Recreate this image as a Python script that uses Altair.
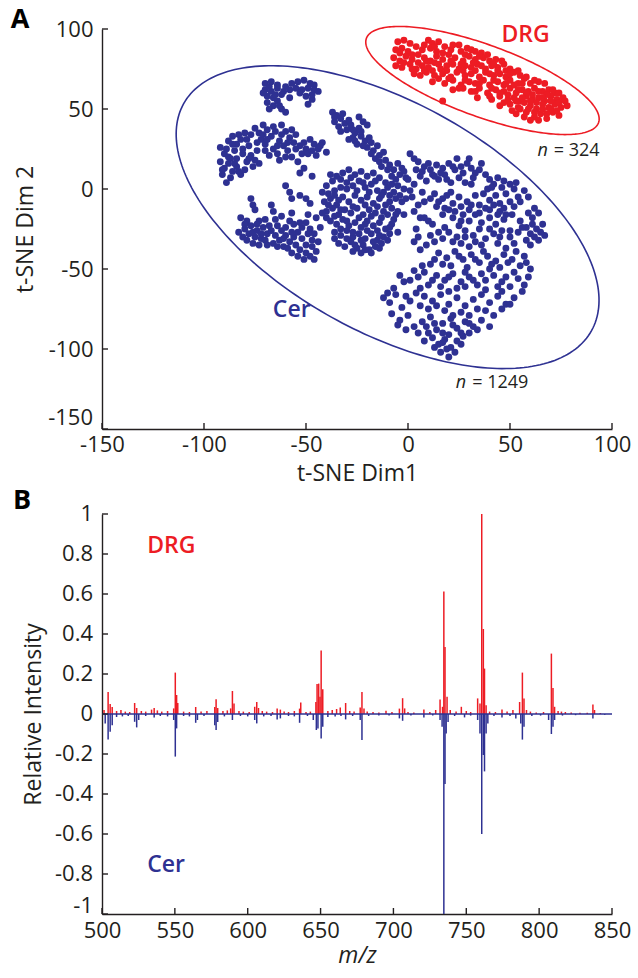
import altair as alt
import numpy as np
import pandas as pd

RED = "#ED1C24"
BLUE = "#2E3192"
INK = "#231F20"
FONT = "Open Sans"

W = 510      # plot width (both panels)
HA = 400     # plot height panel A
HB = 400     # plot height panel B

# ---------------- Panel A data : t-SNE embedding ----------------
cer_points = [
    # top cluster
    (-70,66),(-67,67),(-64,65),(-54,67),(-51,68),(-48,66),(-46,65),(-57,66),
    (-70,62),(-67,61),(-64,63),(-61,61),(-58,62),(-55,63),(-52,62),(-49,63),(-46,62),(-44,61),
    (-69,58),(-66,57),(-62,59),(-58,57),(-50,58),(-47,56),(-49,53),
    (-69,54),(-66,52),(-62,50),(-60,48),(-64,55),(-68,50),
    (-68,64),(-65,59),(-60,64),(-53,60),(-47,59),(-63,52),(-71,60),
    # upper-middle arm
    (-37,48),(-35,46),(-36,42),(-33,44),(-34,39),(-31,41),(-30,37),(-28,40),(-26,35),(-24,38),
    (-27,32),(-23,33),(-21,30),(-25,28),(-20,26),(-18,29),(-17,24),(-15,27),(-14,21),(-12,23),
    (-16,19),(-11,18),(-9,15),(-13,14),(-7,12),(-5,16),(-4,9),(-8,8),(-22,42),(-20,40),(-24,45),
    (-29,31),(-3,13),(-1,7),
    (-36,45),(-32,47),(-29,43),(-27,37),(-23,36),(-19,32),(-22,27),(-18,22),(-14,17),(-10,12),
    (-6,6),(-2,11),(-33,36),(-26,30),
    # left cluster
    (-92,26),(-90,22),(-88,30),(-86,33),(-84,28),(-82,31),(-80,35),(-78,27),(-85,24),(-81,22),(-77,21),
    (-92,17),(-90,13),(-88,16),(-86,11),(-84,14),(-82,9),(-80,12),(-87,7),(-91,9),(-79,17),(-84,19),
    (-88,20),(-76,14),(-73,16),(-89,4),
    (-75,38),(-73,35),(-71,40),(-69,37),(-72,31),(-70,28),(-67,33),(-65,36),(-63,30),(-66,25),(-68,21),
    (-64,22),(-74,24),(-62,40),(-60,36),(-61,27),(-58,32),(-56,29),(-59,24),(-57,20),(-55,34),(-53,27),
    (-52,22),(-54,17),(-51,13),(-53,10),
    (-48,31),(-46,28),(-44,25),(-42,29),(-40,23),(-45,21),(-50,25),(-47,8),
    (-89,25),(-87,19),(-85,16),(-83,11),(-81,25),(-79,31),(-77,34),(-91,12),(-86,28),(-83,34),
    (-74,29),(-71,34),(-69,31),(-66,39),(-64,27),(-62,34),(-59,29),(-57,37),(-55,25),(-51,29),
    (-49,22),(-43,27),(-47,24),(-63,18),(-60,20),(-70,24),(-78,19),(-75,18),
    # centre cluster
    (-40,2),(-37,5),(-35,8),(-32,10),(-29,12),(-26,9),(-23,11),(-20,8),(-17,10),(-14,7),(-11,4),(-8,3),(-5,2),(-2,0),
    (-39,-3),(-36,-1),(-33,1),(-30,4),(-27,2),(-24,5),(-21,1),(-18,3),(-15,-1),(-12,-2),(-9,-4),(-6,-6),(-3,-8),
    (-41,-8),(-38,-6),(-35,-10),(-32,-5),(-29,-8),(-26,-4),(-23,-7),(-20,-5),(-17,-9),(-14,-6),(-11,-10),(-8,-12),
    (-40,-14),(-37,-12),(-34,-16),(-31,-13),(-28,-15),(-25,-12),(-22,-16),(-19,-13),(-16,-15),(-13,-18),(-10,-16),(-7,-19),
    (-38,-20),(-35,-22),(-32,-19),(-29,-23),(-26,-21),(-23,-24),(-20,-20),(-17,-23),(-14,-21),(-11,-25),(-8,-22),
    (-36,-27),(-33,-29),(-30,-26),(-27,-30),(-24,-28),(-21,-31),(-18,-28),(-15,-32),(-12,-30),(-9,-28),
    (-34,-34),(-31,-36),(-28,-33),(-25,-37),(-22,-35),(-19,-38),(-16,-36),(-13,-34),
    (-27,-39),(-23,-40),(-18,-40),
    (-38,9),(-33,6),(-28,7),(-22,4),(-16,5),(-10,1),(-7,-2),(-4,-4),(-1,-6),(-36,-4),(-30,0),(-25,-1),
    (-19,-2),(-13,-4),(-34,-7),(-27,-11),(-21,-10),(-15,-11),(-9,-8),(-5,-14),(-2,-16),(-39,-10),
    (-33,-13),(-24,-18),(-18,-17),(-12,-14),(-6,-16),(-36,-17),(-30,-20),(-21,-22),(-15,-26),(-9,-24),
    (-5,-27),(-33,-25),(-27,-27),(-20,-26),(-14,-29),(-30,-31),(-23,-32),(-17,-33),(-10,-32),(-26,-35),
    (-21,-38),(-14,-37),(-36,-31),(-40,-18),(-42,-2),
    # lower-left cluster
    (-60,2),(-58,-2),(-57,-6),(-77,-6),(-76,-10),(-75,-13),(-67,-10),(-66,-14),(-53,-4),(-50,-6),(-48,-9),
    (-82,-18),(-79,-20),(-80,-25),(-77,-23),(-74,-26),(-71,-24),(-69,-28),(-72,-31),(-75,-30),(-78,-28),
    (-81,-30),(-76,-34),(-73,-35),(-70,-32),(-67,-26),(-64,-23),(-62,-26),(-60,-29),(-63,-32),(-66,-34),
    (-61,-36),(-58,-33),(-56,-30),(-54,-27),(-52,-24),(-50,-21),(-48,-25),(-46,-28),(-52,-31),(-55,-35),
    (-53,-38),(-50,-40),(-47,-36),(-44,-33),(-45,-39),(-48,-42),(-51,-44),(-57,-40),(-43,-24),(-45,-18),
    (-49,-16),(-42,-15),(-65,-19),(-62,-17),(-58,-20),(-57,-15),(-70,-19),(-73,-20),
    (-80,-22),(-76,-27),(-72,-28),(-68,-23),(-65,-29),(-61,-31),(-57,-27),(-53,-21),(-49,-28),(-47,-32),
    (-50,-35),(-54,-42),(-46,-44),(-59,-37),(-64,-36),(-69,-35),(-79,-32),(-83,-27),(-74,-22),(-60,-24),
    (-56,-22),
    # right-upper cluster
    (1,22),(5,17),(8,14),(11,12),(14,15),(17,13),(20,16),(23,12),(26,14),(29,16),(31,13),(33,10),(6,8),
    (9,5),(12,9),(15,6),(18,9),(21,4),(25,7),(28,4),(31,3),(3,3),(0,6),(36,16),(30,19),(24,19),
    (38,9),(40,6),(42,3),(39,0),(44,7),(46,1),(50,3),(52,0),(48,-3),(43,-4),(40,-7),(45,-9),(50,-8),
    (54,-5),(37,-3),(52,-11),(57,-1),(45,-14),(40,-13),
    (62,-12),(64,-15),(61,-18),(66,-22),(63,-25),(67,-29),(64,-32),(60,-28),(58,-24),
    (2,-5),(5,-10),(8,-8),(3,-14),(6,-18),(10,-20),(4,-25),(13,-3),(17,-6),(21,-2),(25,-5),(29,-8),
    (33,-4),(35,-10),(30,-13),(26,-11),(22,-9),(18,-12),(14,-11),
    (3,19),(7,11),(10,16),(13,8),(16,10),(19,6),(22,14),(27,10),(32,7),(35,12),(4,12),(1,-1),(7,-2),
    (11,-6),(15,-8),(19,-4),(23,-14),(27,-16),(31,-10),(35,-15),(38,-12),(42,-10),(47,-12),(41,1),
    (47,5),(53,4),(55,-8),(59,-5),(48,-16),(44,-16),(61,-22),(62,-30),(65,-27),(59,-15),
    # right-lower cluster
    (3,-33),(6,-38),(8,-18),(12,-22),(15,-27),(18,-24),(11,-29),
    (20,-27),(24,-30),(28,-26),(32,-29),(35,-25),(38,-31),(42,-28),(46,-26),(50,-30),(54,-27),(58,-32),
    (26,-34),(30,-36),(36,-35),(44,-34),(48,-37),(52,-34),
    (22,-18),(26,-20),(30,-20),(33,-16),(36,-21),(40,-18),(43,-22),(47,-19),(51,-16),(55,-20),(25,-23),
    (20,-13),(17,-16),
    (15,-40),(19,-43),(23,-39),(27,-44),(31,-41),(35,-46),(39,-42),(43,-45),(47,-41),(51,-44),(55,-48),
    (58,-46),(60,-50),(11,-47),(21,-48),(29,-49),(40,-50),(45,-49),
    (5,-55),(8,-52),(14,-54),(18,-57),(22,-53),(26,-58),(30,-55),(34,-60),(38,-57),(42,-54),(46,-58),
    (50,-61),(54,-56),(57,-60),(-4,-54),(-2,-58),(10,-60),(16,-61),(24,-62),
    (-12,-68),(-9,-71),(-6,-66),(-3,-74),(1,-70),(4,-65),(8,-67),(12,-70),(16,-66),(20,-72),(24,-68),
    (28,-73),(32,-69),(36,-66),(40,-71),(44,-67),(48,-72),(52,-68),(18,-76),(26,-77),(56,-64),
    (-8,-78),(-4,-82),(0,-79),(3,-86),(7,-83),(11,-80),(14,-88),(17,-84),(21,-81),(24,-87),(28,-83),
    (32,-86),(36,-82),(40,-86),(10,-90),(20,-91),(30,-90),
    (12,-93),(15,-97),(18,-94),(21,-99),(24,-95),(27,-92),(16,-102),(19,-100),
    (5,-30),(9,-35),(13,-33),(17,-31),(22,-33),(28,-30),(33,-33),(40,-25),(45,-30),(50,-26),(56,-24),
    (60,-35),(13,-44),(17,-47),(25,-42),(33,-44),(37,-39),(41,-47),(49,-46),(53,-39),(57,-42),(7,-48),
    (3,-51),(1,-57),(12,-57),(20,-55),(28,-52),(32,-57),(36,-53),(44,-61),(48,-55),(52,-52),(59,-55),
    (6,-62),(20,-64),(28,-61),(38,-63),(46,-64),(-7,-62),(-10,-65),(-1,-67),(6,-73),(10,-75),(14,-73),
    (22,-79),(30,-79),(34,-75),(38,-76),(42,-79),(46,-75),(50,-72),(-5,-85),(-1,-88),(5,-90),(9,-86),
    (13,-84),(17,-90),(22,-85),(26,-90),(30,-84),(34,-88),(8,-95),(13,-99),(17,-96),(23,-102),(20,-105),
    (26,-97),
]

drg_points = [
    (-5,92),(-2,93),(1,91),(10,93),(12,91),(15,92),(25,90),
    (-6,87),(-3,88),(0,86),(4,89),(7,87),(11,88),(14,86),(18,89),(21,87),(26,86),(29,88),(33,86),(36,85),
    (-7,82),(-4,80),(-1,83),(2,81),(5,84),(8,82),(11,80),(14,83),(17,81),(20,84),(23,82),(27,80),(30,83),
    (33,81),(37,82),(40,80),(43,81),
    (-6,77),(-3,76),(1,78),(4,75),(7,77),(10,76),(13,79),(16,75),(19,77),(22,78),(25,75),(28,77),(31,76),
    (34,78),(38,75),(41,77),(44,76),(47,78),(50,75),
    (3,72),(6,71),(9,73),(13,71),(17,72),(21,70),(24,73),(28,71),(31,72),(35,70),(38,73),(42,71),(45,72),
    (48,70),(52,73),(55,71),
    (12,67),(18,66),(22,68),(26,65),(30,67),(33,66),(37,68),(40,65),(44,67),(47,65),(50,68),(54,66),
    (57,69),(60,66),(64,67),
    (22,62),(27,63),(31,61),(35,63),(39,60),(43,62),(47,61),(50,63),(53,60),(56,62),(59,61),(62,63),
    (66,61),(69,62),(72,60),
    (17,55),(34,57),(41,56),(45,58),(49,56),(52,57),(55,55),(58,58),(61,56),(64,57),(67,55),(70,58),
    (73,56),(76,57),
    (45,52),(50,53),(54,51),(57,54),(60,52),(63,50),(66,53),(69,51),(72,53),(75,51),(78,52),
    (53,47),(58,48),(62,45),(65,47),(68,44),(71,48),(60,43),(74,46),
    (-4,85),(2,84),(8,90),(13,89),(17,85),(22,90),(28,84),(31,87),(35,83),(39,84),(-2,79),(5,79),(9,80),
    (15,78),(21,80),(26,78),(32,79),(36,77),(42,78),(46,80),(48,74),(2,75),(8,74),(12,74),(19,74),
    (27,74),(33,74),(40,72),(44,74),(50,72),(54,74),(58,70),(15,69),(20,69),(28,68),(35,66),(42,68),
    (48,66),(52,65),(56,66),(62,68),(67,66),(25,63),(33,61),(41,63),(45,60),(49,59),(54,62),(58,60),
    (61,59),(64,61),(68,59),(71,62),(74,60),(40,58),(47,54),(53,55),(56,57),(60,55),(63,54),(66,57),
    (70,55),(74,54),(77,55),(51,49),(55,50),(59,50),(62,48),(66,50),(70,50),(73,49),(57,45),(64,43),
    (68,47),
]

# enclosing ellipses: centre (data units), semi-axes (px), rotation (deg)
ellipse_specs = [
    ("Cer", -10.0, -17.6, 233.4, 114.7, -29.1),
    ("DRG", 36.5, 67.8, 123.5, 35.9, -20.0),
]

ticks_A = [-150, -100, -50, 0, 50, 100]

# ---------------- Panel B data : mean spectra ----------------
drg_mz = [501.4,504.2,505.6,507,510,513,516,519,522.4,523.8,527,530,534,535.8,538,541,545,
          549.2,550.3,551.2,552,556,560,564.3,568,572,577.4,578.3,579.4,583,586,588.3,589.5,590.6,
          594,597,601,604.8,606.2,607.4,610,613,617,620.2,622.4,625,628,632,635.6,636.4,640,643,
          646.8,647.6,648.7,649.6,650.4,651.5,655,658,661,663.5,667.2,670,673,677.2,678.4,679.8,
          682,686,690,694.9,699,704.1,706.3,707.7,710,714,720.9,725,729,732,733.7,734.6,735.4,
          736.8,739,743,746.6,750,753,757.8,759.4,760.6,761.7,762.5,763.6,766,770,774.5,778,782,
          786.6,788.5,789.6,791.3,794,798,803,808.4,809.5,810.6,813,815.3,818,822,828,833,836.9,
          838,842]
drg_int = [0.02,0.11,0.05,0.035,0.015,0.02,0.012,0.01,0.055,0.03,0.015,0.012,0.022,0.03,0.018,0.012,0.015,
           0.028,0.207,0.095,0.055,0.012,0.01,0.035,0.012,0.015,0.035,0.074,0.03,0.015,0.018,0.028,0.115,0.052,
           0.015,0.012,0.01,0.036,0.06,0.03,0.015,0.012,0.01,0.027,0.022,0.012,0.01,0.015,0.027,0.057,0.01,0.012,
           0.06,0.15,0.152,0.086,0.318,0.124,0.015,0.02,0.025,0.032,0.055,0.015,0.012,0.032,0.11,0.028,
           0.012,0.01,0.008,0.016,0.01,0.027,0.079,0.028,0.01,0.008,0.022,0.01,0.02,0.072,0.036,0.613,0.335,
           0.086,0.02,0.012,0.036,0.015,0.01,0.078,0.052,1.0,0.425,0.227,0.044,0.012,0.01,0.022,0.012,0.02,
           0.06,0.207,0.077,0.02,0.012,0.008,0.01,0.302,0.13,0.036,0.015,0.012,0.01,0.008,0.006,0.006,0.047,
           0.02,0.005]

cer_mz = [502.2,504.2,505.6,507,510,514,518,522.4,523.8,525.2,530,535.8,540,545,549.2,550.3,551.2,556,
          560,564.3,565.5,570,577.4,578.3,579.4,584,589.5,595,600,604.8,606.2,611,616,620.2,622.4,628,632,
          635.6,641,645,647.1,648.2,650.4,651.5,655,660,664,667.2,672,677.2,678.4,683,690,697,704.1,706.3,
          712,720.9,727,732,733.4,734.6,735.4,736.2,737.5,742,748.8,753,757.8,759.4,760.6,761.7,762.5,763.6,
          764.8,769,774.5,780,784,787.4,788.5,789.6,795,801,806.5,808.4,809.5,810.6,816,825,836.9,845]
cer_int = [-0.047,-0.128,-0.089,-0.056,-0.015,-0.012,-0.01,-0.039,-0.067,-0.03,-0.01,-0.017,-0.01,-0.012,
           -0.03,-0.213,-0.072,-0.01,-0.012,-0.044,-0.03,-0.01,-0.056,-0.08,-0.04,-0.012,-0.03,-0.01,-0.012,
           -0.03,-0.047,-0.012,-0.01,-0.027,-0.022,-0.01,-0.012,-0.044,-0.01,-0.03,-0.08,-0.072,-0.122,-0.064,
           -0.015,-0.012,-0.01,-0.027,-0.01,-0.03,-0.13,-0.01,-0.008,-0.008,-0.022,-0.034,-0.008,-0.017,-0.008,
           -0.03,-0.064,-1.0,-0.35,-0.097,-0.04,-0.01,-0.017,-0.008,-0.03,-0.097,-0.6,-0.205,-0.287,-0.097,
           -0.047,-0.01,-0.017,-0.01,-0.022,-0.047,-0.128,-0.064,-0.01,-0.008,-0.03,-0.1,-0.064,-0.03,-0.008,
           -0.006,-0.022,-0.004]

ticks_Bx = [500, 550, 600, 650, 700, 750, 800, 850]
ticks_By = [-0.8, -0.6, -0.4, -0.2, 0, 0.2, 0.4, 0.6, 0.8, 1]
labels_By = ["-0.8", "-0.6", "-0.4", "-0.2", "0", "0.2", "0.4", "0.6", "0.8", "1"]

# ---------------- build tables ----------------
pts = pd.concat([
    pd.DataFrame(cer_points, columns=["x", "y"]).assign(group="Cer"),
    pd.DataFrame(drg_points, columns=["x", "y"]).assign(group="DRG"),
], ignore_index=True)

SX = W / 250.0
SY = HA / 250.0
ell_frames = []
for name, cx, cy, a, b, ang in ellipse_specs:
    t = np.linspace(0, 2 * np.pi, 241)
    th = np.deg2rad(ang)
    dx = a * np.cos(t) * np.cos(th) - b * np.sin(t) * np.sin(th)
    dy = a * np.cos(t) * np.sin(th) + b * np.sin(t) * np.cos(th)
    ell_frames.append(pd.DataFrame({"x": cx + dx / SX, "y": cy + dy / SY,
                                    "group": name, "i": np.arange(len(t))}))
ell = pd.concat(ell_frames, ignore_index=True)

LS = 22  # tick label size
TS = 23  # axis title size


def minus_expr(skip=None):
    base = "datum.value < 0 ? '-' + format(-datum.value, '~g') : format(datum.value, '~g')"
    if skip is None:
        return base
    return f"datum.value == {skip} ? '' : ({base})"


color = alt.Color("group:N", scale=alt.Scale(domain=["DRG", "Cer"], range=[RED, BLUE]), legend=None)

xA = alt.X("x:Q", scale=alt.Scale(domain=[-150, 100], nice=False, zero=False),
           axis=alt.Axis(values=ticks_A, labelExpr=minus_expr(), title="t-SNE Dim1",
                         labelPadding=5, titlePadding=7, labelOverlap=False))
yA = alt.Y("y:Q", scale=alt.Scale(domain=[-150, 100], nice=False, zero=False),
           axis=alt.Axis(values=ticks_A, labelExpr=minus_expr(-150), title="t-SNE Dim 2",
                         labelPadding=9, titlePadding=11, labelOverlap=False))

scatter = alt.Chart(pts).mark_circle(size=48, opacity=1).encode(x=xA, y=yA, color=color)
ellipses = alt.Chart(ell).mark_line(strokeWidth=1.6).encode(
    x="x:Q", y="y:Q", color=color, order="i:Q", detail="group:N")

tA_x = alt.Chart(pd.DataFrame({"x": ticks_A})).mark_rule(color=INK, strokeWidth=1.4).encode(
    x="x:Q", y=alt.value(HA), y2=alt.value(HA - 6))
tA_y = alt.Chart(pd.DataFrame({"y": ticks_A})).mark_rule(color=INK, strokeWidth=1.4).encode(
    y="y:Q", x=alt.value(0), x2=alt.value(6))
# lowest y label sits slightly above its tick, as in the reference
lowA = alt.Chart(pd.DataFrame({"y": [-150], "t": ["-150"]})).mark_text(
    font=FONT, fontSize=LS, color=INK, align="right", baseline="middle", dy=-11
).encode(y="y:Q", x=alt.value(-9), text="t:N")

labA = pd.DataFrame({"x": [57.6, -57.0], "y": [96.5, -75.5], "text": ["DRG", "Cer"], "group": ["DRG", "Cer"]})
group_labels_A = alt.Chart(labA).mark_text(font=FONT, fontSize=23, fontWeight=600,
                                           align="center", baseline="middle").encode(
    x="x:Q", y="y:Q", text="text:N", color=color)

nA = pd.DataFrame({"x": [70.0, 30.0], "y": [24.0, -121.0], "rest": ["= 324", "= 1249"]})
n_italic = alt.Chart(nA).mark_text(font=FONT, fontSize=18, fontStyle="italic", align="right",
                                   baseline="middle", dx=-3, color=INK, text="n").encode(x="x:Q", y="y:Q")
n_rest = alt.Chart(nA).mark_text(font=FONT, fontSize=18, align="left", baseline="middle",
                                 dx=3, color=INK).encode(x="x:Q", y="y:Q", text="rest:N")

letterA = alt.Chart(pd.DataFrame({"t": ["A"]})).mark_text(
    font=FONT, fontSize=27, fontWeight="bold", color="#000000", align="center", baseline="middle"
).encode(text="t:N", x=alt.value(-82), y=alt.value(-9))

panelA = alt.layer(scatter, ellipses, tA_x, tA_y, lowA, group_labels_A, n_italic, n_rest,
                   letterA).properties(width=W, height=HA)

# ---------------- panel B ----------------
spec = pd.concat([
    pd.DataFrame({"mz": drg_mz, "i": drg_int, "group": "DRG"}),
    pd.DataFrame({"mz": cer_mz, "i": cer_int, "group": "Cer"}),
], ignore_index=True)

xB = alt.X("mz:Q", scale=alt.Scale(domain=[500, 850], nice=False, zero=False),
           axis=alt.Axis(values=ticks_Bx, title="m/z", titleFontStyle="italic",
                         labelPadding=6, titlePadding=3, labelOverlap=False))
yB = alt.Y("i:Q", scale=alt.Scale(domain=[-1, 1], nice=False, zero=False),
           axis=alt.Axis(values=[-1] + ticks_By, labels=False, title="Relative Intensity",
                         titlePadding=57))

sticks = alt.Chart(spec).mark_rule(strokeWidth=1.5).encode(
    x=xB, y=yB, y2=alt.datum(0), color=color)
baseline = alt.Chart(pd.DataFrame({"mz": [500], "mz2": [850], "i": [0]})).mark_rule(
    color=BLUE, strokeWidth=1.6).encode(x="mz:Q", x2="mz2:Q", y="i:Q")

tB_x = alt.Chart(pd.DataFrame({"mz": ticks_Bx})).mark_rule(color=INK, strokeWidth=1.4).encode(
    x="mz:Q", y=alt.value(HB), y2=alt.value(HB - 6))
tB_y = alt.Chart(pd.DataFrame({"i": [-1] + ticks_By})).mark_rule(color=INK, strokeWidth=1.4).encode(
    y="i:Q", x=alt.value(0), x2=alt.value(6))

ylabB = alt.Chart(pd.DataFrame({"i": ticks_By, "t": labels_By})).mark_text(
    font=FONT, fontSize=LS, color=INK, align="right", baseline="middle"
).encode(y="i:Q", x=alt.value(-9), text="t:N")
lowB = alt.Chart(pd.DataFrame({"i": [-1], "t": ["-1"]})).mark_text(
    font=FONT, fontSize=LS, color=INK, align="right", baseline="middle", dy=-8
).encode(y="i:Q", x=alt.value(-9), text="t:N")

labB = pd.DataFrame({"mz": [531.0, 531.0], "i": [0.84, -0.754], "text": ["DRG", "Cer"], "group": ["DRG", "Cer"]})
group_labels_B = alt.Chart(labB).mark_text(font=FONT, fontSize=23, fontWeight=600,
                                           align="left", baseline="middle").encode(
    x="mz:Q", y="i:Q", text="text:N", color=color)

letterB = alt.Chart(pd.DataFrame({"t": ["B"]})).mark_text(
    font=FONT, fontSize=27, fontWeight="bold", color="#000000", align="center", baseline="middle"
).encode(text="t:N", x=alt.value(-80), y=alt.value(-13))

panelB = alt.layer(sticks, baseline, tB_x, tB_y, ylabB, lowB, group_labels_B, letterB).properties(
    width=W, height=HB)

chart = alt.vconcat(panelA, panelB, spacing=2).properties(
    padding={"left": 10, "top": 6, "right": 4, "bottom": 2},
    background="white",
).configure_view(stroke=None).configure_axis(
    domainColor=INK, domainWidth=1.4, ticks=False, grid=False,
    labelFont=FONT, labelFontSize=LS, labelColor=INK, labelFlush=False, labelOverlap=False,
    titleFont=FONT, titleFontSize=TS, titleColor=INK, titleFontWeight="normal",
)

chart.save("out.html", embed_options={"renderer": "svg", "actions": False})
